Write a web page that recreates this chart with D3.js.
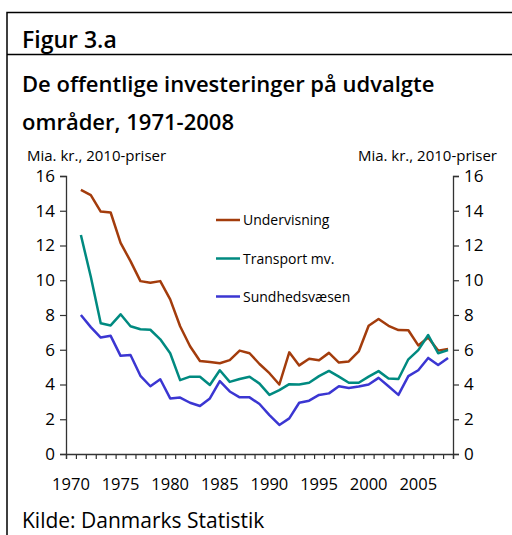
<!DOCTYPE html>
<html>
  <head>
    <meta charset="utf-8">
    <title>Figur 3.a</title>
    <script src="https://cdn.jsdelivr.net/npm/d3@7"></script>
    <style>
      body { margin: 0; background: #fff; }
      text { font-family: "Open Sans", "Noto Sans", sans-serif; fill: #000; }
    </style>
  </head>
  <body>
    <svg width="512" height="535" id="mainsvg"></svg>
    <script>
      // data (mia. kr., 2010-priser)
      const years = d3.range(1971, 2009);
      const undervisning = [15.2, 14.9, 13.95, 13.9, 12.15, 11.1, 9.95, 9.85, 9.95, 8.9, 7.35, 6.2, 5.35, 5.3, 5.22, 5.4, 5.95, 5.8, 5.18, 4.65,
        4.0, 5.85, 5.1, 5.48, 5.4, 5.82, 5.26, 5.33, 5.9, 7.38, 7.77, 7.38, 7.13, 7.12, 6.25, 6.7, 5.95, 6.05];
      const transport = [12.6, 10.2, 7.52, 7.4, 8.04, 7.35, 7.18, 7.15, 6.6, 5.8, 4.25, 4.45, 4.45, 3.97, 4.82, 4.15, 4.32, 4.45, 4.05, 3.4,
        3.68, 4.02, 4.0, 4.1, 4.48, 4.78, 4.45, 4.1, 4.1, 4.45, 4.77, 4.35, 4.32, 5.45, 5.98, 6.85, 5.8, 5.98];
      const sundhed = [8.0, 7.3, 6.7, 6.8, 5.65, 5.7, 4.5, 3.9, 4.3, 3.2, 3.25, 2.95, 2.76, 3.2, 4.2, 3.6, 3.26, 3.26, 2.88, 2.24,
        1.67, 2.05, 2.95, 3.07, 3.4, 3.49, 3.9, 3.8, 3.88, 4.0, 4.38, 3.9, 3.4, 4.48, 4.82, 5.53, 5.12, 5.53];
      const seriesNames = ['Undervisning', 'Transport mv.', 'Sundhedsvæsen'];
      const seriesColors = ['#a33c0c', '#008a80', '#3b36d2'];
      const yTicks = [0, 2, 4, 6, 8, 10, 12, 14, 16];
      const xLabels = [1970, 1975, 1980, 1985, 1990, 1995, 2000, 2005];

      const svg = d3.select('#mainsvg');

      // frame
      svg.append('path')
        .attr('d', 'M7,535 V12.5 H512 M7,54.5 H512')
        .attr('fill', 'none').attr('stroke', '#000').attr('stroke-width', 1.5);

      svg.append('text').attr('x', 22).attr('y', 48)
        .attr('font-size', 23).attr('font-weight', 600).text('Figur 3.a');
      svg.append('text').attr('x', 22).attr('y', 92)
        .attr('font-size', 22).attr('font-weight', 600).text('De offentlige investeringer på udvalgte');
      svg.append('text').attr('x', 22).attr('y', 130)
        .attr('font-size', 22).attr('font-weight', 600).text('områder, 1971-2008');

      svg.append('text').attr('x', 27).attr('y', 161).attr('font-size', 15).text('Mia. kr., 2010-priser');
      svg.append('text').attr('x', 497).attr('y', 161).attr('font-size', 15)
        .attr('text-anchor', 'end').text('Mia. kr., 2010-priser');

      // scales: each year occupies a band, points at band centres
      const x = d3.scaleLinear().domain([1970, 2009]).range([66, 453]);
      const y = d3.scaleLinear().domain([0, 16]).range([454, 176]);
      const xc = yr => x(yr + 0.5);

      const axisL = svg.append('g').attr('transform', 'translate(66,0)')
        .call(d3.axisLeft(y).tickValues(yTicks).tickSize(6).tickPadding(5));
      const axisR = svg.append('g').attr('transform', 'translate(453,0)')
        .call(d3.axisRight(y).tickValues(yTicks).tickSize(6).tickPadding(5));
      const axisB = svg.append('g').attr('transform', 'translate(0,454)')
        .call(d3.axisBottom(x).tickValues(d3.range(1970, 2010)).tickSize(5).tickFormat(''));
      [axisL, axisR, axisB].forEach(a => {
        a.select('.domain').attr('stroke', '#333').attr('stroke-width', 1.3);
        a.selectAll('.tick line').attr('stroke', '#333').attr('stroke-width', 1.2);
        a.selectAll('.tick text').attr('font-size', 17).attr('font-family', '"Open Sans", sans-serif').attr('fill', '#000');
      });

      svg.append('g').selectAll('text').data(xLabels).join('text')
        .attr('x', d => xc(d)).attr('y', 490)
        .attr('text-anchor', 'middle').attr('font-size', 16.5).text(d => d);

      // lines
      const allSeries = [undervisning, transport, sundhed];
      const line = d3.line().x((d, i) => xc(years[i])).y(d => y(d));
      svg.append('g').selectAll('path').data(allSeries).join('path')
        .attr('d', line)
        .attr('fill', 'none')
        .attr('stroke', (d, i) => seriesColors[i])
        .attr('stroke-width', 2.5)
        .attr('stroke-linejoin', 'round');

      // legend
      const legY = [220, 258.5, 296.5];
      const leg = svg.append('g').selectAll('g').data(seriesNames).join('g')
        .attr('transform', (d, i) => `translate(216,${legY[i]})`);
      leg.append('line').attr('x1', 0).attr('x2', 24)
        .attr('stroke', (d, i) => seriesColors[i]).attr('stroke-width', 2.5);
      leg.append('text').attr('x', 27).attr('y', 5).attr('font-size', 14).text(d => d);

      svg.append('text').attr('x', 22).attr('y', 528).attr('font-size', 21).text('Kilde: Danmarks Statistik');
    </script>
  </body>
</html>
